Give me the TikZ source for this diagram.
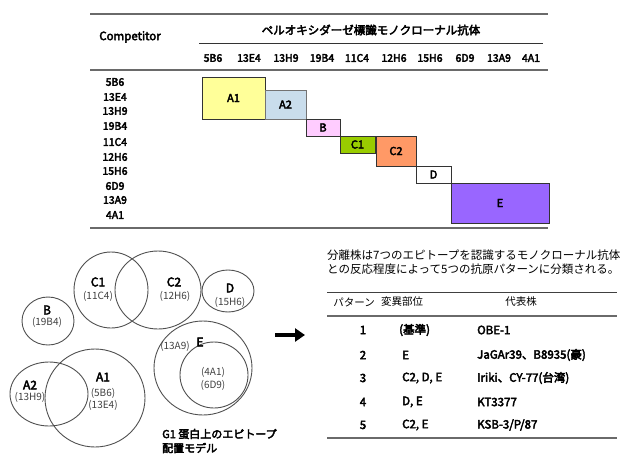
\documentclass[tikz,border=0pt]{standalone}
\usepackage{fontspec}
\setmainfont{Noto Sans CJK JP}[AutoFakeBold=3.5]
\usetikzlibrary{arrows.meta}
\definecolor{rule}{HTML}{6A6A6A}
\definecolor{cA1}{HTML}{FFFF99}
\definecolor{cA2}{HTML}{C9DDEC}
\definecolor{cB}{HTML}{FFCCFF}
\definecolor{cC1}{HTML}{99CC00}
\definecolor{cC2}{HTML}{FF9966}
\definecolor{cE}{HTML}{9966FF}
\definecolor{circ}{HTML}{505050}
\tikzset{
  box/.style={draw=black!80, line width=0.8pt, inner sep=0pt, font=\bfseries\fontsize{11}{12}\selectfont},
  lab/.style={font=\bfseries\fontsize{10.5}{11}\selectfont, inner sep=0pt},
  clab/.style={font=\bfseries\fontsize{12}{13}\selectfont, inner sep=0pt},
  csub/.style={font=\fontsize{10}{11}\selectfont, text=black!75, inner sep=0pt},
  ring/.style={draw=circ, line width=0.9pt},
  jtxt/.style={font=\fontsize{11.5}{13}\selectfont, inner sep=0pt},
  thd/.style={font=\fontsize{10.5}{12}\selectfont, inner sep=0pt},
  cell/.style={font=\bfseries\fontsize{11.5}{13}\selectfont, inner sep=0pt},
  hrule/.style={draw=rule, line width=1.6pt},
}
\begin{document}
\begin{tikzpicture}[x=1pt,y=-1pt]
\useasboundingbox (0,0) rectangle (621,458);
% ---------- top table ----------
\coordinate (t1a) at (90,14); \coordinate (t1b) at (548,14);
\draw[draw=rule, line width=1.2pt] (t1a) -- (t1b);
\node[lab, font=\bfseries\fontsize{11.5}{12}\selectfont] (comp) at (130,37) {Competitor};
\node[jtxt, font=\bfseries\fontsize{11.5}{13}\selectfont] (hdr) at (371,30) {ペルオキシダーゼ標識モノクローナル抗体};
\coordinate (u1a) at (199,43); \coordinate (u1b) at (543,43);
\draw[draw=black!80, line width=0.9pt] (u1a) -- (u1b);
\foreach \t/\x in {5B6/213,13E4/249,13H9/286,19B4/322,11C4/357,12H6/394,15H6/430,6D9/465,13A9/499,4A1/531}
  \node[lab] (col\t) at (\x,58) {\t};
\coordinate (t2a) at (90,70); \coordinate (t2b) at (548,70);
\draw[hrule] (t2a) -- (t2b);
\foreach \t/\y in {5B6/82,13E4/97,13H9/111,19B4/126,11C4/142,12H6/157,15H6/171,6D9/186,13A9/200,4A1/215}
  \node[lab] (row\t) at (115,\y) {\t};
\coordinate (t3a) at (90,228); \coordinate (t3b) at (548,228);
\draw[hrule] (t3a) -- (t3b);
\node[box, fill=cA1, minimum width=63pt, minimum height=42pt] (bA1) at (233.5,98) {A1};
\node[box, fill=cA2, draw=black!55, minimum width=41pt, minimum height=29pt] (bA2) at (285.5,104.5) {A2};
\node[box, fill=cB, minimum width=34pt, minimum height=17pt] (bB) at (323,127.5) {B};
\node[box, fill=cC1, minimum width=35pt, minimum height=17pt] (bC1) at (357.5,144.5) {C1};
\node[box, fill=cC2, minimum width=40pt, minimum height=30pt] (bC2) at (396,151) {C2};
\node[box, fill=white, minimum width=35pt, minimum height=17pt] (bD) at (433.5,174.5) {D};
\node[box, fill=cE, minimum width=98pt, minimum height=40pt] (bE) at (500,203) {E};
% ---------- circles ----------
\draw[ring] (111,290) ellipse [x radius=37, y radius=38];
\draw[ring] (158,290) ellipse [x radius=43, y radius=39];
\draw[ring] (228,291) ellipse [x radius=26, y radius=21];
\draw[ring] (48,321) ellipse [x radius=26, y radius=24];
\draw[ring] (203,368) ellipse [x radius=49, y radius=47];
\draw[ring] (214,375) ellipse [x radius=34, y radius=33];
\draw[ring] (49,394) ellipse [x radius=39, y radius=32];
\draw[ring] (95,398) ellipse [x radius=50, y radius=49];
\node[clab] (lC1) at (98,282) {C1};
\node[csub] (sC1) at (98,296) {(11C4)};
\node[clab] (lC2) at (174,282) {C2};
\node[csub] (sC2) at (175,296) {(12H6)};
\node[clab] (lD) at (230,288) {D};
\node[csub] (sD) at (230,302) {(15H6)};
\node[clab] (lB) at (47,310) {B};
\node[csub] (sB) at (47,322) {(19B4)};
\node[csub] (sE1) at (175,346) {(13A9)};
\node[clab] (lE) at (200,342) {E};
\node[csub] (sE2) at (213,372) {(4A1)};
\node[csub] (sE3) at (213,385) {(6D9)};
\node[clab] (lA2) at (30,385) {A2};
\node[csub] (sA2) at (30,397) {(13H9)};
\node[clab] (lA1) at (103,377) {A1};
\node[csub] (sA1a) at (103,393) {(5B6)};
\node[csub] (sA1b) at (103,405) {(13E4)};
\node[jtxt, font=\bfseries\fontsize{11}{12}\selectfont, anchor=west] (g1a) at (162,434) {G1 蛋白上のエピトープ};
\node[jtxt, font=\bfseries\fontsize{11}{12}\selectfont, anchor=west] (g1b) at (162,448) {配置モデル};
% ---------- arrow ----------
\coordinate (arA) at (275,335); \coordinate (arB) at (305,335);
\draw[line width=4pt, -{Triangle[length=10pt,width=13pt]}] (arA) -- (arB);
% ---------- right table ----------
\node[jtxt, anchor=west] (p1) at (327,255) {分離株は7つのエピトープを認識するモノクローナル抗体};
\node[jtxt, anchor=west] (p2) at (327,269) {との反応程度によって5つの抗原パターンに分類される。};
\coordinate (r1a) at (327,292); \coordinate (r1b) at (617,292);
\draw[draw=black!75, line width=1pt] (r1a) -- (r1b);
\node[thd] (h1) at (354,302) {パターン};
\node[thd] (h2) at (402,302) {変異部位};
\node[thd] (h3) at (521,302) {代表株};
\coordinate (r2a) at (327,316); \coordinate (r2b) at (617,316);
\draw[hrule, line width=1.2pt] (r2a) -- (r2b);
\node[cell] (n1) at (363,330) {1};
\node[cell, anchor=west] (v1) at (399,330) {(基準)};
\node[cell, anchor=west] (s1) at (477,330) {OBE-1};
\node[cell] (n2) at (363,355) {2};
\node[cell, anchor=west] (v2) at (402,355) {E};
\node[cell, anchor=west] (s2) at (477,355) {JaGAr39、B8935(豪)};
\node[cell] (n3) at (363,378) {3};
\node[cell, anchor=west] (v3) at (402,378) {C2, D, E};
\node[cell, anchor=west] (s3) at (477,378) {Iriki、CY-77(台湾)};
\node[cell] (n4) at (363,402) {4};
\node[cell, anchor=west] (v4) at (402,402) {D, E};
\node[cell, anchor=west] (s4) at (477,402) {KT3377};
\node[cell] (n5) at (363,425) {5};
\node[cell, anchor=west] (v5) at (402,425) {C2, E};
\node[cell, anchor=west] (s5) at (477,425) {KSB-3/P/87};
\coordinate (r3a) at (327,438); \coordinate (r3b) at (617,438);
\draw[hrule] (r3a) -- (r3b);
\end{tikzpicture}
\end{document}
